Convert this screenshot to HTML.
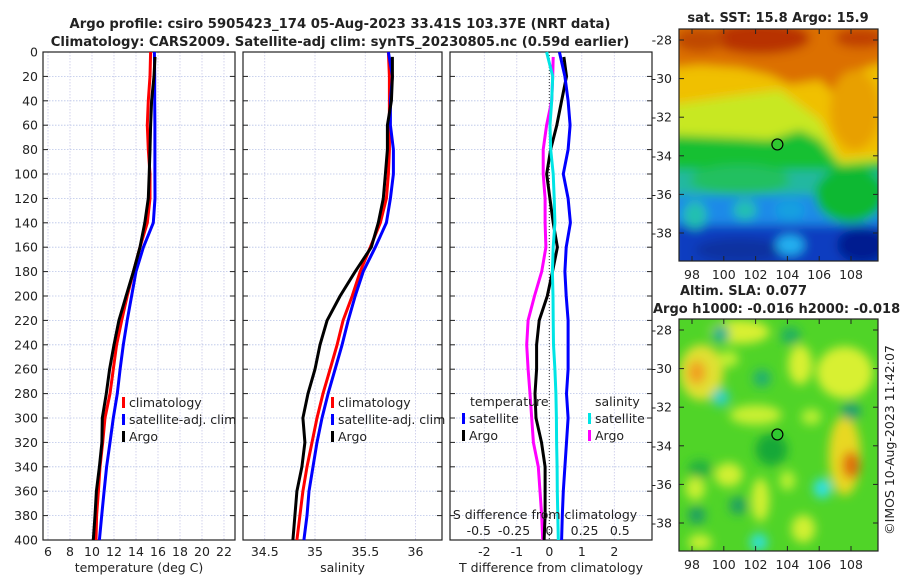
<!DOCTYPE html>
<html><head><meta charset="utf-8">
<style>
html,body{margin:0;padding:0;background:#fff;}
body{width:900px;height:580px;overflow:hidden;font-family:"Liberation Sans","DejaVu Sans",sans-serif;}
svg text{font-family:"DejaVu Sans","Liberation Sans",sans-serif;fill:#222;}
</style></head>
<body>
<svg id="chart" width="900" height="580" viewBox="0 0 900 580" xmlns="http://www.w3.org/2000/svg">
<defs>
<filter id="blur1" x="-10%" y="-10%" width="120%" height="120%"><feGaussianBlur stdDeviation="5"/></filter>
<filter id="blur2" x="-10%" y="-10%" width="120%" height="120%"><feGaussianBlur stdDeviation="5"/></filter>
<clipPath id="clipM1"><rect x="679" y="29" width="199" height="232"/></clipPath>
<clipPath id="clipM2"><rect x="679" y="319" width="199" height="232"/></clipPath>
</defs>
<text x="340" y="28" text-anchor="middle" font-size="13.2" font-weight="bold">Argo profile: csiro 5905423_174 05-Aug-2023 33.41S 103.37E (NRT data)</text>
<text x="340" y="46" text-anchor="middle" font-size="13.2" font-weight="bold">Climatology: CARS2009. Satellite-adj clim: synTS_20230805.nc (0.59d earlier)</text>
<g id="panels"></g>
<g id="maps"></g>
<text transform="translate(894,440) rotate(-90)" text-anchor="middle" font-size="12.5">©IMOS 10-Aug-2023 11:42:07</text>
</svg>
<script>
// ---- data (depth in m) ----
const depths = [0,20,40,60,80,100,120,140,160,180,200,220,240,260,280,300,320,340,360,380,400];
const tempClim = [15.33,15.27,15.12,15.03,15.12,15.27,15.27,15.03,14.36,13.76,13.2,12.7,12.24,11.94,11.64,11.18,10.97,10.73,10.58,10.42,10.36];
const tempSat  = [15.67,15.7,15.7,15.72,15.72,15.72,15.73,15.57,14.67,14.0,13.6,13.2,12.85,12.55,12.3,11.94,11.64,11.33,11.1,10.88,10.67];
const tempArgo = [15.73,15.64,15.42,15.33,15.27,15.2,15.12,14.8,14.36,13.76,13.1,12.45,12.0,11.6,11.3,10.94,10.9,10.67,10.4,10.27,10.12];
const salClim = [35.73,35.74,35.74,35.74,35.74,35.73,35.71,35.65,35.55,35.45,35.37,35.28,35.22,35.15,35.08,35.02,34.97,34.92,34.88,34.85,34.82];
const salSat  = [35.73,35.77,35.75,35.75,35.78,35.78,35.75,35.71,35.6,35.48,35.4,35.33,35.27,35.2,35.13,35.07,35.02,34.98,34.94,34.92,34.89];
const salArgo = [35.77,35.77,35.76,35.72,35.72,35.7,35.68,35.63,35.56,35.4,35.25,35.12,35.05,35.0,34.93,34.88,34.9,34.87,34.82,34.8,34.78];
const tDiffSat  = [0.31,0.48,0.58,0.64,0.58,0.43,0.58,0.65,0.52,0.48,0.52,0.58,0.58,0.58,0.53,0.58,0.53,0.48,0.43,0.4,0.38];
const tDiffArgo = [0.45,0.53,0.38,0.23,0.04,-0.08,0.02,0.12,0.25,0.1,-0.06,-0.31,-0.39,-0.39,-0.44,-0.41,-0.24,-0.13,-0.13,-0.13,-0.16];
const sDiffSat  = [-0.019,0.024,0.017,0.005,0.01,0.028,0.035,0.04,0.028,0.022,0.026,0.028,0.03,0.04,0.047,0.05,0.052,0.055,0.057,0.06,0.064];
const sDiffArgo = [0.028,0.024,0.017,-0.019,-0.043,-0.043,-0.03,-0.03,-0.024,-0.054,-0.105,-0.15,-0.16,-0.15,-0.137,-0.125,-0.113,-0.078,-0.066,-0.054,-0.047];
const depthTicks = [0,20,40,60,80,100,120,140,160,180,200,220,240,260,280,300,320,340,360,380,400];
const tTicks = [6,8,10,12,14,16,18,20,22];
const sTicks = [34.5,35,35.5,36];
const dTicks = [-2,-1,0,1,2];
const sdTicks = [-0.5,-0.25,0,0.25,0.5];
const sdTickLabels = ["-0.5","-0.25","0","0.25","0.5"];

const NS = "http://www.w3.org/2000/svg";
function mk(tag, attrs, parent){ const e=document.createElementNS(NS,tag); for(const k in attrs) e.setAttribute(k,attrs[k]); parent.appendChild(e); return e; }
const Y0=52, Y1=540;
const yScale = d => Y0 + (d/400)*(Y1-Y0);
const panelsG = document.getElementById('panels');

function linScale(d0,d1,r0,r1){ return v => r0 + (v-d0)/(d1-d0)*(r1-r0); }

const panels = [
  {name:'temperature-panel', x0:43, x1:235, sx: linScale(6,22,48,224), ticks:tTicks, label:'temperature (deg C)', yLabels:true},
  {name:'salinity-panel', x0:243, x1:442, sx: linScale(35,36,315,415.5), ticks:sTicks, label:'salinity'},
  {name:'difference-panel', x0:450, x1:652, sx: linScale(-1,1,516.8,581.8), ticks:dTicks, label:'T difference from climatology'}
];
const sdScale = linScale(-0.5,0.5,478.8,619.8);

function drawPanel(p){
  const g = mk('g',{},panelsG);
  
  
  depthTicks.forEach(d=>{
    const l = mk('line',{x1:p.x0,x2:p.x1,y1:yScale(d),y2:yScale(d),stroke:'#b8c4e8','stroke-width':0.8,'stroke-dasharray':'1.5,1.5'},g);
    
    
  });
  p.ticks.forEach(t=>{
    const x=p.sx(t);
    const l = mk('line',{x1:x,x2:x,y1:Y0,y2:Y1,stroke:'#c8c8e8','stroke-width':0.8,'stroke-dasharray':'1.5,1.5'},g);
    
    
    const tx = mk('text',{x:x,y:556,'text-anchor':'middle','font-size':12.5},g);
    tx.textContent = String(t);
    
    
  });
  depthTicks.forEach(d=>{
    const y=yScale(d);
    mk('line',{x1:p.x0,x2:p.x0+5,y1:y,y2:y,stroke:'#222','stroke-width':1},g);
    mk('line',{x1:p.x1-5,x2:p.x1,y1:y,y2:y,stroke:'#222','stroke-width':1},g);
    if(p.yLabels){
      const tx = mk('text',{x:38,y:y+4.5,'text-anchor':'end','font-size':12.5},g);
      tx.textContent = String(d);
      
      
    }
  });
  const frame = mk('rect',{x:p.x0,y:Y0,width:p.x1-p.x0,height:Y1-Y0,fill:'none',stroke:'#222','stroke-width':1.2},g);
  
  
  const xl = mk('text',{x:(p.x0+p.x1)/2,y:572,'text-anchor':'middle','font-size':12.5},g);
  xl.textContent = p.label;
  
  
  return g;
}
function drawLine(g, vals, sx, color, name){
  let d='';
  vals.forEach((v,i)=>{ const dep = (i===0 && name.indexOf('argo')>=0) ? 4 : depths[i]; d += (d?'L':'M')+sx(v).toFixed(1)+','+yScale(dep).toFixed(1); });
  const p = mk('path',{d:d,fill:'none',stroke:color,'stroke-width':3,'stroke-linejoin':'round'},g);
  
  
}
function legend(g, x, y, color, label){
  const r = mk('rect',{x:x,y:y-10,width:3,height:11,fill:color},g);
  
  
  const t = mk('text',{x:x+7,y:y,'font-size':12.5},g);
  t.textContent = label;
  
  
}

const g1 = drawPanel(panels[0]);
drawLine(g1,tempClim,panels[0].sx,'#ff0000','temp-climatology-line');
drawLine(g1,tempSat,panels[0].sx,'#0000ff','temp-satellite-line');
drawLine(g1,tempArgo,panels[0].sx,'#000000','temp-argo-line');
legend(g1,122,407,'#ff0000','climatology');
legend(g1,122,424,'#0000ff','satellite-adj. clim');
legend(g1,122,441,'#000000','Argo');

const g2 = drawPanel(panels[1]);
drawLine(g2,salClim,panels[1].sx,'#ff0000','sal-climatology-line');
drawLine(g2,salSat,panels[1].sx,'#0000ff','sal-satellite-line');
drawLine(g2,salArgo,panels[1].sx,'#000000','sal-argo-line');
legend(g2,331,407,'#ff0000','climatology');
legend(g2,331,424,'#0000ff','satellite-adj. clim');
legend(g2,331,441,'#000000','Argo');

const g3 = drawPanel(panels[2]);
const zl = mk('line',{x1:panels[2].sx(0),x2:panels[2].sx(0),y1:Y0,y2:Y1,stroke:'#333','stroke-width':1,'stroke-dasharray':'1,2'},g3);


drawLine(g3,sDiffArgo,sdScale,'#ff00ff','sal-diff-argo-line');
drawLine(g3,tDiffArgo,panels[2].sx,'#000000','temp-diff-argo-line');
drawLine(g3,sDiffSat,sdScale,'#00e5e5','sal-diff-satellite-line');
drawLine(g3,tDiffSat,panels[2].sx,'#0000ff','temp-diff-satellite-line');
const lt = mk('text',{x:470,y:406,'font-size':12.5},g3); lt.textContent='temperature';
 
const ls = mk('text',{x:595,y:406,'font-size':12.5},g3); ls.textContent='salinity';
 
legend(g3,462,423,'#0000ff','satellite');
legend(g3,462,440,'#000000','Argo');
legend(g3,588,423,'#00e5e5','satellite');
legend(g3,588,440,'#ff00ff','Argo');
const st = mk('text',{x:545,y:519,'text-anchor':'middle','font-size':12.5},g3); st.textContent='S difference from climatology';
 
sdTicks.forEach((t,i)=>{
  const tx = mk('text',{x:sdScale(t),y:535,'text-anchor':'middle','font-size':12.5},g3);
  tx.textContent = sdTickLabels[i];
  
  
});

// ---- maps ----
const lonTicks=[98,100,102,104,106,108];
const latTicks=[-28,-30,-32,-34,-36,-38];
const mapsG = document.getElementById('maps');
const lonX = lon => 692 + (lon-98)*15.9;
function drawMapAxes(g, top, lat0y){
  latTicks.forEach(l=>{
    const y = lat0y + (-28-l)*19.3;
    mk('line',{x1:679,x2:684,y1:y,y2:y,stroke:'#222'},g);
    mk('line',{x1:873,x2:878,y1:y,y2:y,stroke:'#222'},g);
    const t = mk('text',{x:672,y:y+4.5,'text-anchor':'end','font-size':12.5},g);
    t.textContent=String(l);
    
    
  });
  lonTicks.forEach(l=>{
    const x=lonX(l);
    mk('line',{x1:x,x2:x,y1:top,y2:top+5,stroke:'#222'},g);
    mk('line',{x1:x,x2:x,y1:top+227,y2:top+232,stroke:'#222'},g);
    const t = mk('text',{x:x,y:top+250,'text-anchor':'middle','font-size':12.5},g);
    t.textContent=String(l);
    
    
  });
  const f = mk('rect',{x:679,y:top,width:199,height:232,fill:'none',stroke:'#222','stroke-width':1.2},g);
  
  
}
// SST map
const m1 = mk('g',{},mapsG);


const m1c = mk('g',{'clip-path':'url(#clipM1)'},m1);
const m1b = mk('g',{filter:'url(#blur1)'},m1c);
[
 ['rect',{x:670,y:20,width:220,height:260,fill:'#0a3cc0'}],
 ['rect',{x:670,y:20,width:220,height:205,fill:'#1a8ae8'}],
 ['rect',{x:670,y:20,width:220,height:175,fill:'#20b8a0'}],
 ['rect',{x:670,y:20,width:220,height:150,fill:'#18c030'}],
 ['polygon',{points:'670,20 890,20 890,160 840,165 820,140 800,130 770,140 740,138 670,135',fill:'#c8e820'}],
 ['polygon',{points:'670,20 890,20 890,155 840,160 820,120 800,105 780,90 740,95 670,105',fill:'#f0c000'}],
 ['polygon',{points:'670,20 890,20 890,60 860,70 840,100 820,80 790,85 770,75 740,68 700,65 670,68',fill:'#dc7000'}],
 ['ellipse',{cx:760,cy:38,rx:50,ry:16,fill:'#b83000'}],
 ['ellipse',{cx:700,cy:40,rx:25,ry:12,fill:'#c04800'}],
 ['ellipse',{cx:860,cy:38,rx:25,ry:10,fill:'#c04000'}],
 ['ellipse',{cx:855,cy:110,rx:25,ry:40,fill:'#e8a000'}],
 ['ellipse',{cx:740,cy:180,rx:50,ry:15,fill:'#20c060'}],
 ['ellipse',{cx:850,cy:195,rx:35,ry:28,fill:'#10b830'}],
 ['ellipse',{cx:695,cy:215,rx:12,ry:14,fill:'#20c0b0'}],
 ['ellipse',{cx:745,cy:210,rx:12,ry:10,fill:'#20c0b0'}],
 ['ellipse',{cx:790,cy:210,rx:15,ry:10,fill:'#18a0e0'}],
 ['ellipse',{cx:740,cy:250,rx:45,ry:12,fill:'#0830a0'}],
 ['ellipse',{cx:862,cy:245,rx:25,ry:18,fill:'#021a90'}],
 ['ellipse',{cx:790,cy:245,rx:14,ry:10,fill:'#20b0f0'}]
].forEach(s=>mk(s[0],s[1],m1b));
const c1 = mk('circle',{cx:lonX(103.37),cy:40+(-28+33.41)*19.3,r:5.5,fill:'#30c830',stroke:'#000','stroke-width':1.2},m1);


drawMapAxes(m1,29,40);
const t1 = mk('text',{x:778,y:22,'text-anchor':'middle','font-size':13,'font-weight':'bold'},m1);
t1.textContent='sat. SST: 15.8 Argo: 15.9';
 

// SLA map
const m2 = mk('g',{},mapsG);


const m2c = mk('g',{'clip-path':'url(#clipM2)'},m2);
mk('rect',{x:679,y:319,width:199,height:232,fill:'#50d428'},m2c);
const m2b = mk('g',{filter:'url(#blur2)'},m2c);
const slaBlobs = [
 [101,-28.1,30,12,'#d8f030'],[104.8,-29.8,12,20,'#d8f030'],[107.6,-30.2,28,26,'#d8f030'],[98.6,-30.2,22,28,'#e0e030'],
 [98.3,-30.2,9,12,'#f0a020'],[102,-32.4,26,10,'#c8f030'],[100.3,-35.5,14,12,'#d0f030'],[102.3,-36.8,9,22,'#d0f030'],
 [107.6,-34.5,16,40,'#e8d820'],[108,-35,9,14,'#e07010'],[98.2,-36.2,10,12,'#c8f030'],[105,-38.3,12,14,'#d0f030'],
 [98.5,-39,12,8,'#c8f030'],[105.5,-32.5,10,8,'#b8f030'],[100.3,-29.5,10,8,'#c0f030'],[104,-35.8,8,10,'#b8f030'],
 [103,-34.2,16,16,'#18a838'],[99.8,-31.5,9,9,'#30d0c0'],[102.4,-30.5,9,9,'#20b070'],[99.8,-28.2,9,9,'#20b090'],
 [104.2,-28.3,10,9,'#20b060'],[106.2,-36.2,9,10,'#30e0e0'],[102.2,-39,9,9,'#30e0d0'],[108,-32.2,10,9,'#20a070'],
 [98.3,-37.6,9,9,'#20a060'],[100.9,-37.1,9,9,'#20a060'],[98.5,-35.2,12,9,'#20b040']
];
slaBlobs.forEach(b=>{
  mk('ellipse',{cx:lonX(b[0]),cy:330+(-28-b[1])*19.3,rx:b[2],ry:b[3],fill:b[4]},m2b);
});
const c2 = mk('circle',{cx:lonX(103.37),cy:330+(-28+33.41)*19.3,r:5.5,fill:'#30c830',stroke:'#000','stroke-width':1.2},m2);


drawMapAxes(m2,319,330);
const t2 = mk('text',{x:680,y:295,'font-size':13,'font-weight':'bold'},m2);
t2.textContent='Altim. SLA: 0.077';
 
const t3 = mk('text',{x:653,y:313,'font-size':13,'font-weight':'bold'},m2);
t3.textContent='Argo h1000: -0.016 h2000: -0.018';
 
</script>
</body></html>
